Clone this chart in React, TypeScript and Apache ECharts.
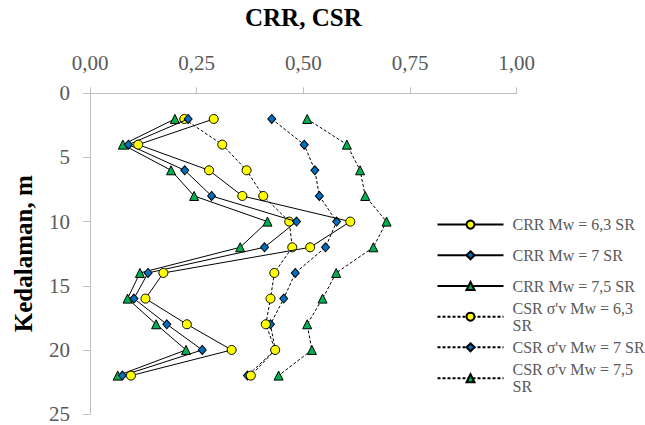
import { useEffect, useRef } from 'react';
import * as echarts from 'echarts';

const depths = [2, 4, 6, 8, 10, 12, 14, 16, 18, 20, 22];
const crr63 = [0.29, 0.113, 0.279, 0.357, 0.61, 0.516, 0.172, 0.13, 0.227, 0.332, 0.096];
const crr7 = [0.23, 0.09, 0.222, 0.285, 0.484, 0.409, 0.136, 0.103, 0.18, 0.263, 0.076];
const crr75 = [0.199, 0.077, 0.19, 0.244, 0.416, 0.352, 0.117, 0.088, 0.155, 0.225, 0.065];
const csr63 = [0.221, 0.31, 0.367, 0.406, 0.467, 0.474, 0.432, 0.423, 0.412, 0.434, 0.377];
const csr7 = [0.426, 0.502, 0.527, 0.5375, 0.578, 0.552, 0.481, 0.454, 0.423, 0.434, 0.369];
const csr75 = [0.509, 0.602, 0.633, 0.645, 0.695, 0.664, 0.577, 0.545, 0.509, 0.52, 0.442];

const seriesNames = [
  'CRR Mw = 6,3 SR',
  'CRR Mw = 7 SR',
  'CRR Mw = 7,5 SR',
  "CSR σ'v Mw = 6,3 SR",
  "CSR σ'v Mw = 7 SR",
  "CSR σ'v Mw = 7,5 SR",
];
const legendLabels = [
  'CRR Mw = 6,3 SR',
  'CRR Mw = 7 SR',
  'CRR Mw = 7,5 SR',
  "CSR σ'v Mw = 6,3\nSR",
  "CSR σ'v Mw = 7 SR",
  "CSR σ'v Mw = 7,5\nSR",
];
const xTitle = 'CRR, CSR';
const yTitle = 'Kedalaman, m';

const FONT = '"Liberation Serif", "Times New Roman", serif';
const GRAY = '#595959';

export default function App() {
  const ref = useRef<HTMLDivElement>(null);
  useEffect(() => {
    document.body.style.margin = '0';
    const chart = echarts.init(ref.current!, undefined, { renderer: 'svg' });
    const valueSets = [crr63, crr7, crr75, csr63, csr7, csr75];
    const symbols = ['circle', 'diamond', 'triangle', 'circle', 'diamond', 'triangle'];
    const sizes: any[] = [9, [8, 9], 9, 9, [8, 9], 9];
    const colors = ['#FFFF00', '#0070C0', '#00B050', '#FFFF00', '#0070C0', '#00B050'];
    const series = valueSets.map((vals, i) => ({
      name: seriesNames[i],
      type: 'line',
      data: depths.map((d, j) => [vals[j], d]),
      symbol: symbols[i],
      symbolSize: sizes[i],
      showAllSymbol: true,
      itemStyle: { color: colors[i], borderColor: '#000', borderWidth: 1 },
      lineStyle: {
        color: '#000',
        width: 1,
        type: i >= 3 ? [3, 2] : 'solid',
      },
      z: 10 - i,
    }));
    const centers = [224.6, 255.3, 286, 316.7, 347.3, 378.3];
    const legends = seriesNames.map((n, i) => {
      const wrapped = legendLabels[i].includes('\n');
      return {
        data: [n],
        orient: 'vertical',
        left: 436.5,
        top: wrapped ? centers[i] - 25.5 : centers[i] - 8.5,
        padding: 0,
        itemWidth: 66,
        itemHeight: 10,
        formatter: () => legendLabels[i],
        selectedMode: false,
        textStyle: {
          fontFamily: FONT,
          fontSize: 16,
          color: GRAY,
          lineHeight: 17,
          padding: wrapped ? [17, 0, 0, 4] : [0, 0, 0, 4],
        },
      };
    });
    chart.setOption({
      animation: false,
      textStyle: { fontFamily: FONT },
      grid: { left: 90, top: 93.3, width: 426.7, height: 320.8, containLabel: false },
      legend: legends,
      xAxis: {
        type: 'value',
        position: 'top',
        min: 0,
        max: 1,
        interval: 0.25,
        name: xTitle,
        nameLocation: 'middle',
        nameGap: 63,
        nameTextStyle: { fontFamily: FONT, fontSize: 25, fontWeight: 'bold', color: '#000' },
        axisLine: { show: true, lineStyle: { color: '#BFBFBF', width: 1 } },
        axisTick: { show: true, length: 6, lineStyle: { color: '#BFBFBF' } },
        axisLabel: {
          fontFamily: FONT,
          fontSize: 21,
          color: GRAY,
          margin: 20,
          formatter: (v: number) => v.toFixed(2).replace('.', ','),
        },
        splitLine: { show: false },
      },
      yAxis: {
        type: 'value',
        inverse: true,
        min: 0,
        max: 25,
        interval: 5,
        name: yTitle,
        nameLocation: 'middle',
        nameGap: 54,
        nameTextStyle: { fontFamily: FONT, fontSize: 25, fontWeight: 'bold', color: '#000' },
        axisLine: { show: true, lineStyle: { color: '#BFBFBF', width: 1 } },
        axisTick: { show: true, length: 7, lineStyle: { color: '#BFBFBF' } },
        axisLabel: { fontFamily: FONT, fontSize: 21, color: GRAY, margin: 20 },
        splitLine: { show: false },
      },
      series,
    });
    return () => chart.dispose();
  }, []);
  return <div ref={ref} style={{ width: 645, height: 425 }} />;
}
